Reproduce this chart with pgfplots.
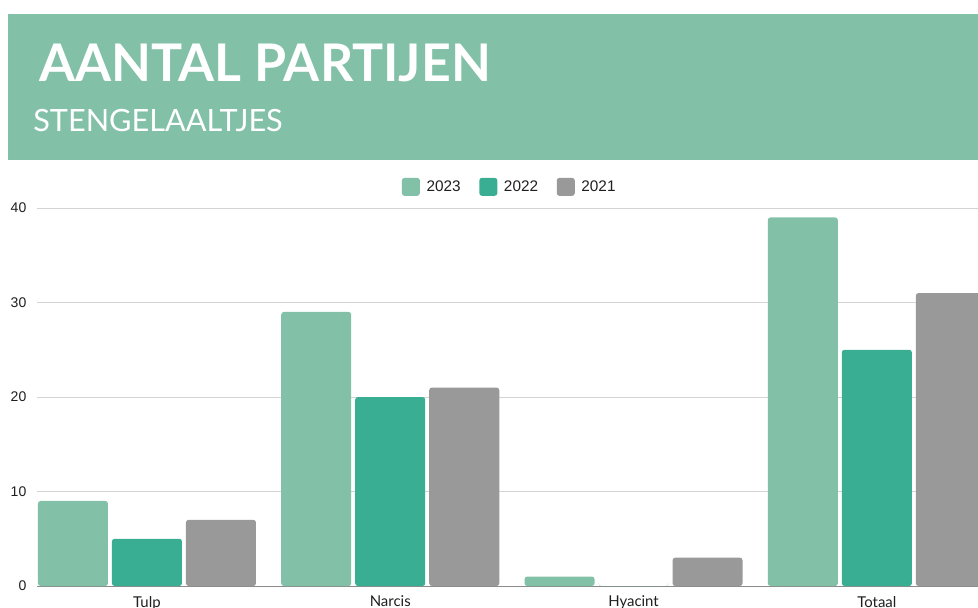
\documentclass[border=0pt]{standalone}
\usepackage{pgfplots}
\pgfplotsset{compat=1.18}
\usepackage{fontspec}
\setmainfont{Lato}
\newfontfamily\numfont{Liberation Sans}
\definecolor{c23}{HTML}{82C1A8}
\definecolor{c22}{HTML}{39AE93}
\definecolor{c21}{HTML}{999999}
\definecolor{gridc}{HTML}{D4D4D4}
\definecolor{basec}{HTML}{8C8C8C}
\begin{document}
\begin{tikzpicture}[x=0.75pt,y=0.75pt]
\useasboundingbox (0,0) rectangle (978,607);
\clip (0,0) rectangle (978,607);
\fill[c23] (8,447) rectangle (978,593);
\node[anchor=base west, inner sep=0, text=white, font=\fontsize{38.9}{46}\selectfont\bfseries] at (39,525) {AANTAL PARTIJEN};
\node[anchor=base west, inner sep=0, text=white, font=\fontsize{23}{27}\selectfont] at (33,475) {STENGELAALTJES};
\begin{axis}[
  at={(27.75pt,15.75pt)}, anchor=south west,
  scale only axis, width=705.75pt, height=283.5pt,
  ybar=3pt, bar width=52.5pt,
  xmin=-0.452, xmax=3.416, ymin=0, ymax=40,
  ytick={0,10,20,30,40},
  xtick={0,1,2,3}, xticklabels={Tulp,Narcis,Hyacint,Totaal},
  axis lines*=left,
  y axis line style={draw=none},
  x axis line style={draw=basec, line width=0.75pt, -},
  major tick length=0pt,
  ymajorgrids, grid style={draw=gridc, line width=0.75pt},
  /pgf/number format/assume math mode=true,
  xticklabel style={font=\fontsize{11.2}{13}\selectfont, text=black!88, yshift=-4pt},
  yticklabel style={font=\numfont\fontsize{10.5}{12}\selectfont, text=black!88, xshift=-4.5pt},
  legend style={at={(0.5027,1.056)}, anchor=center, draw=none, fill=none,
    legend columns=3, font=\numfont\fontsize{11.5}{13}\selectfont, text=black!88,
    /tikz/every odd column/.append style={column sep=3pt},
    /tikz/every even column/.append style={column sep=12pt}},
  legend image code/.code={\fill[#1] (0pt,-6.75pt) rectangle (13.5pt,6.75pt);},
]
\addplot[fill=c23, draw=none, rounded corners=2pt] coordinates {(0,9) (1,29) (2,1) (3,39)};
\addplot[fill=c22, draw=none, rounded corners=2pt] coordinates {(0,5) (1,20) (2,0) (3,25)};
\addplot[fill=c21, draw=none, rounded corners=2pt] coordinates {(0,7) (1,21) (2,3) (3,31)};
\legend{2023,2022,2021}
\end{axis}
\end{tikzpicture}
\end{document}
